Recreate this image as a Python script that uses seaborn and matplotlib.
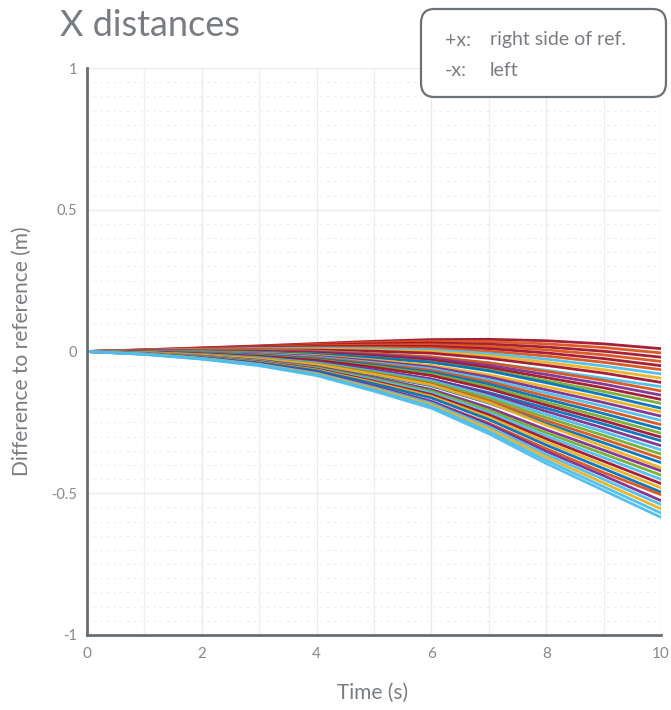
import matplotlib
matplotlib.use("Agg")
import matplotlib.pyplot as plt
import numpy as np
import pandas as pd
import seaborn as sns
from matplotlib.patches import FancyBboxPatch
from matplotlib.ticker import MultipleLocator

# ---------------- data ----------------
time_s = [0, 1, 2, 3, 4, 5, 6, 7, 8, 9, 10]

trajectories = [
    [0, .006, .013, .020, .028, .036, .042, .043, .038, .027, .010],
    [0, .006, .012, .018, .025, .032, .036, .035, .027, .014, -.005],
    [0, .005, .011, .017, .022, .027, .030, .026, .016, .001, -.020],
    [0, .005, .010, .015, .020, .023, .024, .018, .006, -.012, -.035],
    [0, .004, .009, .013, .017, .018, .018, .010, -.005, -.025, -.050],
    [0, .004, .008, .011, .014, .014, .012, .001, -.016, -.038, -.064],
    [0, .004, .007, .010, .011, .010, .006, -.007, -.027, -.051, -.079],
    [0, .003, .006, .008, .008, .005, .000, -.015, -.038, -.064, -.094],
    [0, .003, .005, .006, .005, .001, -.006, -.024, -.049, -.076, -.109],
    [0, .002, .004, .004, .001, -.008, -.020, -.040, -.066, -.094, -.124],
    [0, .002, .003, .003, .000, -.008, -.019, -.040, -.070, -.102, -.139],
    [0, .002, .002, .001, -.003, -.012, -.025, -.049, -.081, -.115, -.154],
    [0, .001, .001, -.001, -.006, -.017, -.031, -.057, -.092, -.128, -.169],
    [0, .001, .000, -.003, -.009, -.021, -.037, -.065, -.103, -.141, -.183],
    [0, .000, -.001, -.004, -.010, -.022, -.038, -.068, -.110, -.153, -.200],
    [0, .000, -.002, -.006, -.014, -.030, -.049, -.082, -.124, -.167, -.213],
    [0, .000, -.003, -.008, -.017, -.034, -.055, -.090, -.135, -.180, -.228],
    [0, -.001, -.004, -.010, -.020, -.039, -.061, -.099, -.146, -.193, -.243],
    [0, -.001, -.005, -.012, -.023, -.043, -.067, -.107, -.157, -.206, -.258],
    [0, -.002, -.006, -.013, -.026, -.048, -.073, -.115, -.168, -.219, -.273],
    [0, -.002, -.007, -.015, -.029, -.052, -.079, -.124, -.179, -.232, -.288],
    [0, -.002, -.008, -.017, -.031, -.056, -.085, -.132, -.189, -.244, -.302],
    [0, -.003, -.010, -.021, -.038, -.066, -.098, -.145, -.200, -.256, -.315],
    [0, -.003, -.010, -.020, -.037, -.065, -.097, -.149, -.211, -.270, -.332],
    [0, -.004, -.011, -.022, -.040, -.070, -.103, -.157, -.222, -.283, -.347],
    [0, -.004, -.012, -.024, -.043, -.074, -.109, -.165, -.233, -.296, -.362],
    [0, -.004, -.013, -.026, -.046, -.078, -.115, -.174, -.244, -.309, -.377],
    [0, -.005, -.014, -.027, -.048, -.083, -.121, -.182, -.254, -.322, -.392],
    [0, -.004, -.013, -.026, -.046, -.080, -.118, -.180, -.260, -.335, -.410],
    [0, -.006, -.016, -.031, -.054, -.092, -.134, -.198, -.276, -.348, -.421],
    [0, -.006, -.017, -.033, -.057, -.096, -.140, -.207, -.287, -.361, -.436],
    [0, -.006, -.018, -.034, -.060, -.100, -.146, -.215, -.298, -.374, -.451],
    [0, -.007, -.019, -.036, -.062, -.105, -.152, -.223, -.308, -.387, -.466],
    [0, -.007, -.020, -.038, -.065, -.109, -.158, -.232, -.319, -.400, -.481],
    [0, -.008, -.021, -.040, -.068, -.114, -.164, -.240, -.330, -.413, -.496],
    [0, -.009, -.024, -.045, -.077, -.125, -.177, -.253, -.343, -.427, -.505],
    [0, -.008, -.023, -.043, -.074, -.122, -.176, -.257, -.352, -.438, -.526],
    [0, -.009, -.024, -.045, -.077, -.127, -.182, -.265, -.363, -.451, -.540],
    [0, -.009, -.025, -.047, -.079, -.131, -.188, -.273, -.373, -.464, -.555],
    [0, -.010, -.026, -.048, -.082, -.136, -.194, -.282, -.384, -.477, -.570],
    [0, -.010, -.027, -.050, -.085, -.140, -.200, -.290, -.395, -.490, -.585],
]

line_colors = [
    "#A2142F", "#D95319", "#A2142F", "#D95319", "#A2142F", "#D95319",
    "#4DBEEE", "#EDB120", "#A2142F", "#4DBEEE", "#D95319", "#7E2F8E",
    "#A2142F", "#77AC30", "#0072BD", "#EDB120", "#7E2F8E", "#4DBEEE",
    "#D95319", "#0072BD", "#77AC30", "#A2142F", "#0072BD", "#7E2F8E",
    "#4DBEEE", "#77AC30", "#D95319", "#0072BD", "#EDB120", "#7E2F8E",
    "#77AC30", "#4DBEEE", "#A2142F", "#EDB120", "#0072BD", "#D95319",
    "#7E2F8E", "#4DBEEE", "#EDB120", "#4DBEEE", "#4DBEEE",
]

x_ticks = [0, 2, 4, 6, 8, 10]
x_tick_labels = ["0", "2", "4", "6", "8", "10"]
y_ticks = [-1, -0.5, 0, 0.5, 1]
y_tick_labels = ["-1", "-0.5", "0", "0.5", "1"]

title_text = "X distances"
x_label = "Time (s)"
y_label = "Difference to reference (m)"
note_keys = ["+x:", "-x:"]
note_vals = ["right side of ref.", "left"]

# ---------------- long-form table ----------------
rows = []
for i, vals in enumerate(trajectories):
    for t, v in zip(time_s, vals):
        rows.append({"t": t, "v": v, "run": f"r{i:02d}"})
df = pd.DataFrame(rows)

# ---------------- styling ----------------
sns.set_theme(style="white")
plt.rcParams["font.family"] = ["Lato", "DejaVu Sans"]
txt_c = "#797d81"
tick_txt_c = "#85898c"
spine_c = "#676d72"

fig = plt.figure(figsize=(6.71, 7.10), dpi=100)
ax = fig.add_axes([87 / 671, 75 / 710, 574 / 671, 567 / 710])

sns.lineplot(data=df, x="t", y="v", hue="run", palette=line_colors,
             estimator=None, legend=False, linewidth=2.0, alpha=0.95, ax=ax)

ax.set_xlim(0, 10)
ax.set_ylim(-1, 1)
ax.set_xticks(x_ticks, x_tick_labels)
ax.set_yticks(y_ticks, y_tick_labels)

# faint background grid
ax.xaxis.set_minor_locator(MultipleLocator(1))
ax.yaxis.set_minor_locator(MultipleLocator(0.05))
ax.grid(True, which="major", axis="both", color="#ebebeb", linewidth=1.0)
ax.grid(True, which="minor", axis="x", color="#efefef", linewidth=0.9)
ax.grid(True, which="minor", axis="y", color="#dcdcdc", linewidth=0.8,
        linestyle=(0, (1, 5)))
ax.set_axisbelow(True)

for s in ["top", "right"]:
    ax.spines[s].set_visible(False)
for s in ["left", "bottom"]:
    ax.spines[s].set_color(spine_c)
    ax.spines[s].set_linewidth(2.0)

ax.tick_params(axis="x", which="major", direction="in", length=14, width=2.0,
               color=spine_c, pad=9, labelsize=11, labelcolor=tick_txt_c)
ax.tick_params(axis="y", which="major", direction="in", length=11, width=2.0,
               color=spine_c, pad=7, labelsize=10.5, labelcolor=tick_txt_c)
ax.tick_params(which="minor", length=0)

ax.set_xlabel(x_label, fontsize=15, color=txt_c)
ax.set_ylabel(y_label, fontsize=15, color=txt_c)
ax.xaxis.set_label_coords(0.498, -0.102)
ax.xaxis.label.set_verticalalignment("center")
ax.yaxis.set_label_coords(-0.113, 0.5)
ax.yaxis.label.set_verticalalignment("center")

fig.text(60 / 671, 1 - 26 / 710, title_text, fontsize=26, color=txt_c,
         ha="left", va="center")

box = FancyBboxPatch((421 / 671, 1 - 97 / 710), 245 / 671, 88 / 710,
                     boxstyle="round,pad=0,rounding_size=0.02",
                     transform=fig.transFigure, facecolor="white",
                     edgecolor="#6b7177", linewidth=1.6, zorder=5)
fig.add_artist(box)
for k, (key, val) in enumerate(zip(note_keys, note_vals)):
    yy = 1 - (40 + 30 * k) / 710
    fig.text(445 / 671, yy, key, fontsize=14, color=txt_c, ha="left",
             va="center", zorder=6)
    fig.text(490 / 671, yy, val, fontsize=14, color=txt_c, ha="left",
             va="center", zorder=6)

fig.savefig("out.png", dpi=100)
